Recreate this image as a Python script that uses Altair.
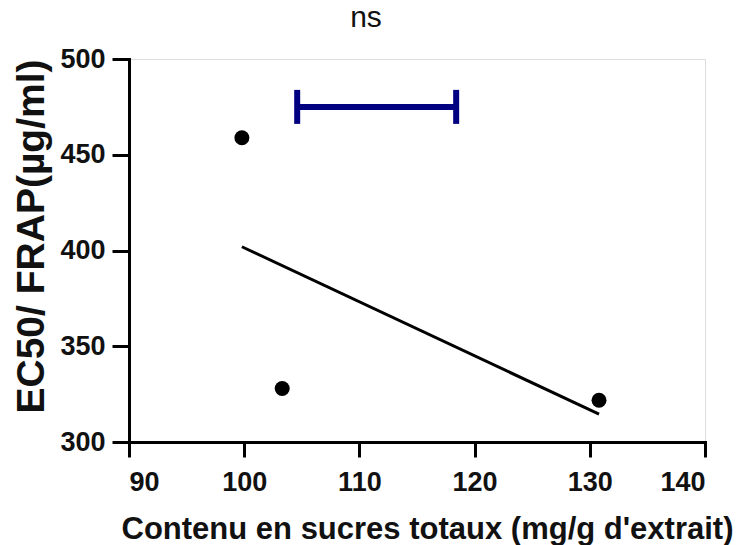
import altair as alt
import pandas as pd

# Total sugar content (mg/g extract) vs EC50 in the FRAP assay (µg/ml)
sucres = [99.8, 103.3, 130.8]
ec50_frap = [458.9, 327.9, 321.8]

# Horizontal error bar shown above the points
barre_x_bas = [104.6]
barre_x_haut = [118.4]
barre_y = [475.0]

x_ticks = [90, 100, 110, 120, 130, 140]
y_ticks = [300, 350, 400, 450, 500]

FONT = "Liberation Sans"
NAVY = "#000080"

pts = pd.DataFrame({"x": sucres, "y": ec50_frap})
bar = pd.DataFrame({"x": barre_x_bas, "x2": barre_x_haut, "y": barre_y})
caps = pd.DataFrame({"x": barre_x_bas + barre_x_haut, "y": barre_y * 2})

x_scale = alt.Scale(domain=[90, 140], nice=False, zero=False)
y_scale = alt.Scale(domain=[300, 500], nice=False, zero=False)

axis_common = dict(
    grid=False,
    domainColor="black",
    domainWidth=3,
    domainCap="square",
    tickColor="black",
    tickWidth=3,
    labelFont=FONT,
    labelFontSize=27,
    labelFontWeight="bold",
    labelColor="#111111",
    titleFont=FONT,
    titleFontWeight="bold",
    titleColor="#111111",
)

x_axis = alt.Axis(
    values=x_ticks,
    tickSize=15,
    labelPadding=12,
    title="Contenu en sucres totaux (mg/g d'extrait)",
    titleFontSize=31,
    titleX=298,
    titleY=96,
    titleAlign="center",
    titleBaseline="alphabetic",
    **axis_common,
)
y_axis = alt.Axis(
    values=y_ticks,
    tickSize=17,
    labelPadding=7,
    title="EC50/ FRAP(µg/ml)",
    titleFontSize=39,
    titleX=-86,
    titleY=177,
    titleAngle=-90,
    titleAlign="center",
    titleBaseline="alphabetic",
    **axis_common,
)

points = alt.Chart(pts).mark_circle(size=225, color="black", opacity=1).encode(
    x=alt.X("x:Q", scale=x_scale, axis=x_axis),
    y=alt.Y("y:Q", scale=y_scale, axis=y_axis),
)

fit = (
    alt.Chart(pts)
    .transform_regression("x", "y")
    .mark_line(color="black", strokeWidth=3)
    .encode(x=alt.X("x:Q", scale=x_scale), y=alt.Y("y:Q", scale=y_scale))
)

err_rule = alt.Chart(bar).mark_rule(color=NAVY, strokeWidth=6).encode(
    x=alt.X("x:Q", scale=x_scale),
    x2="x2:Q",
    y=alt.Y("y:Q", scale=y_scale),
)

err_caps = alt.Chart(caps).mark_tick(
    color=NAVY, orient="vertical", size=34, thickness=6, opacity=1
).encode(
    x=alt.X("x:Q", scale=x_scale),
    y=alt.Y("y:Q", scale=y_scale),
)

chart = (
    alt.layer(fit, points, err_rule, err_caps)
    .properties(
        width=576,
        height=383,
        title=alt.TitleParams(
            text="ns",
            font=FONT,
            fontSize=30,
            fontWeight="normal",
            color="#111111",
            anchor="middle",
            dx=-51,
            dy=30,
            offset=18,
            baseline="alphabetic",
        ),
        padding={"left": 129, "top": 59, "right": 31, "bottom": 103},
        autosize=alt.AutoSizeParams(type="none"),
    )
    .configure_view(stroke=None)
    .configure(background="white")
)

chart.save("out.html", embed_options={"renderer": "svg", "actions": False})
